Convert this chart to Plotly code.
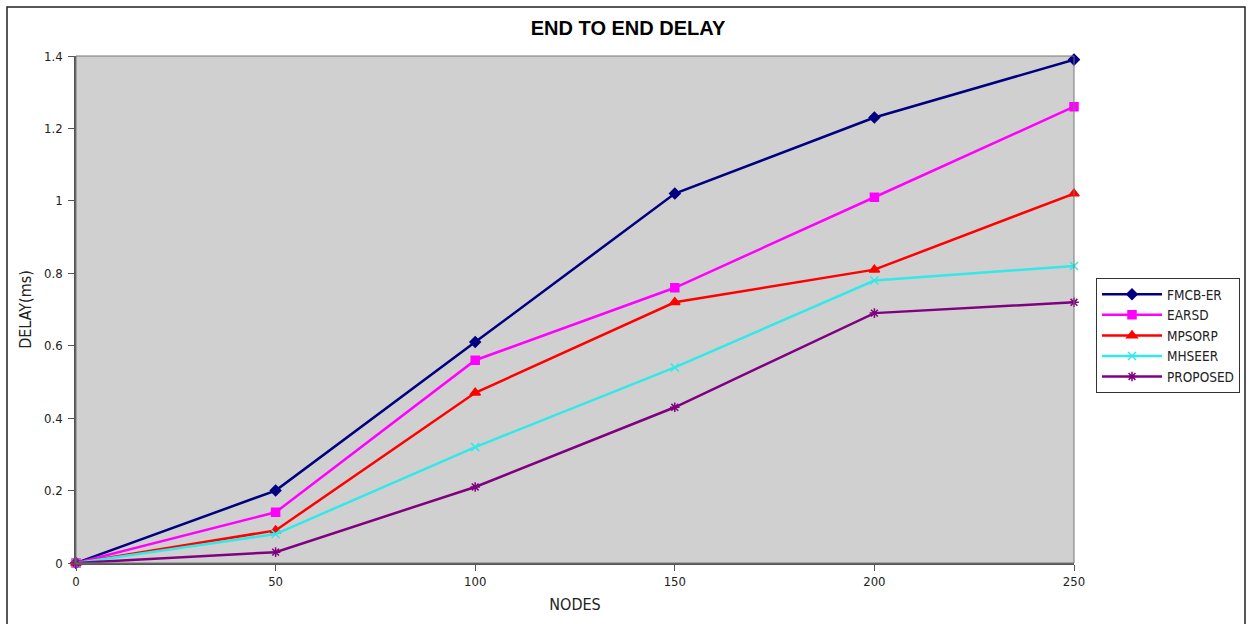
import plotly.graph_objects as go

nodes = [0, 50, 100, 150, 200, 250]
fmcb_er = [0, 0.20, 0.61, 1.02, 1.23, 1.39]
earsd = [0, 0.14, 0.56, 0.76, 1.01, 1.26]
mpsorp = [0, 0.09, 0.47, 0.72, 0.81, 1.02]
mhseer = [0, 0.08, 0.32, 0.54, 0.78, 0.82]
proposed = [0, 0.03, 0.21, 0.43, 0.69, 0.72]

series = [
    ("FMCB-ER", fmcb_er, "#000080", "diamond", 8),
    ("EARSD", earsd, "#ff00ff", "square", 8),
    ("MPSORP", mpsorp, "#ff0000", "triangle-up", 9),
    ("MHSEER", mhseer, "#33e8e8", "x-thin", 8),
    ("PROPOSED", proposed, "#800080", "asterisk", 8),
]

fig = go.Figure()
for name, vals, color, sym, sz in series:
    fig.add_trace(go.Scatter(
        x=nodes, y=vals, name=name, mode="lines+markers",
        line=dict(color=color, width=2.5),
        marker=dict(symbol=sym, size=sz, color=color,
                    line=dict(color=color, width=1.5)),
        cliponaxis=False,
    ))

fig.update_layout(
    width=1251, height=624,
    margin=dict(l=76, r=177, t=56, b=61, autoexpand=False),
    paper_bgcolor="white",
    plot_bgcolor="#d0d0d0",
    font=dict(family="DejaVu Sans", size=12, color="#222"),
    title=dict(text="<b>END TO END DELAY</b>", x=(628) / 1251, xanchor="center",
               y=1 - 28 / 624, yanchor="middle",
               font=dict(family="Liberation Sans", size=20, color="black")),
    xaxis=dict(range=[0, 250], tickvals=nodes, showgrid=False, zeroline=False,
               showline=True, linecolor="#555", linewidth=1.5,
               ticks="outside", ticklen=6, tickcolor="#555",
               tickfont=dict(size=13, family="DejaVu Sans Condensed"),
               title=dict(text="NODES", font=dict(size=16, family="DejaVu Sans Condensed"),
                          standoff=10)),
    yaxis=dict(range=[0, 1.4], tickvals=[0, 0.2, 0.4, 0.6, 0.8, 1, 1.2, 1.4],
               ticktext=["0", "0.2", "0.4", "0.6", "0.8", "1", "1.2", "1.4"],
               showgrid=False, zeroline=False,
               showline=True, linecolor="#555", linewidth=1.5,
               ticks="outside", ticklen=6, tickcolor="#555",
               ticklabelstandoff=3,
               tickfont=dict(size=13, family="DejaVu Sans Condensed"),
               title=dict(text="DELAY(ms)", font=dict(size=16, family="DejaVu Sans Condensed"),
                          standoff=8)),
    legend=dict(x=(1096 - 76) / 998, y=(563 - 278) / 507, xanchor="left", yanchor="top",
                bgcolor="white", bordercolor="#333", borderwidth=1,
                font=dict(size=13.5, family="DejaVu Sans Condensed", color="#222"),
                tracegroupgap=0, itemwidth=60),
    showlegend=True,
)

# plot area border (right and top)
fig.add_shape(type="rect", xref="paper", yref="paper", x0=0, y0=0, x1=1, y1=1,
              line=dict(color="#777", width=1), layer="above")
# outer frame
fig.add_shape(type="rect", xref="paper", yref="paper",
              x0=(7 - 76) / 998, x1=(1245 - 76) / 998,
              y0=(563 - 640) / 507, y1=(563 - 7) / 507,
              line=dict(color="#222", width=1.5), layer="above")

fig.write_html("out.html")
